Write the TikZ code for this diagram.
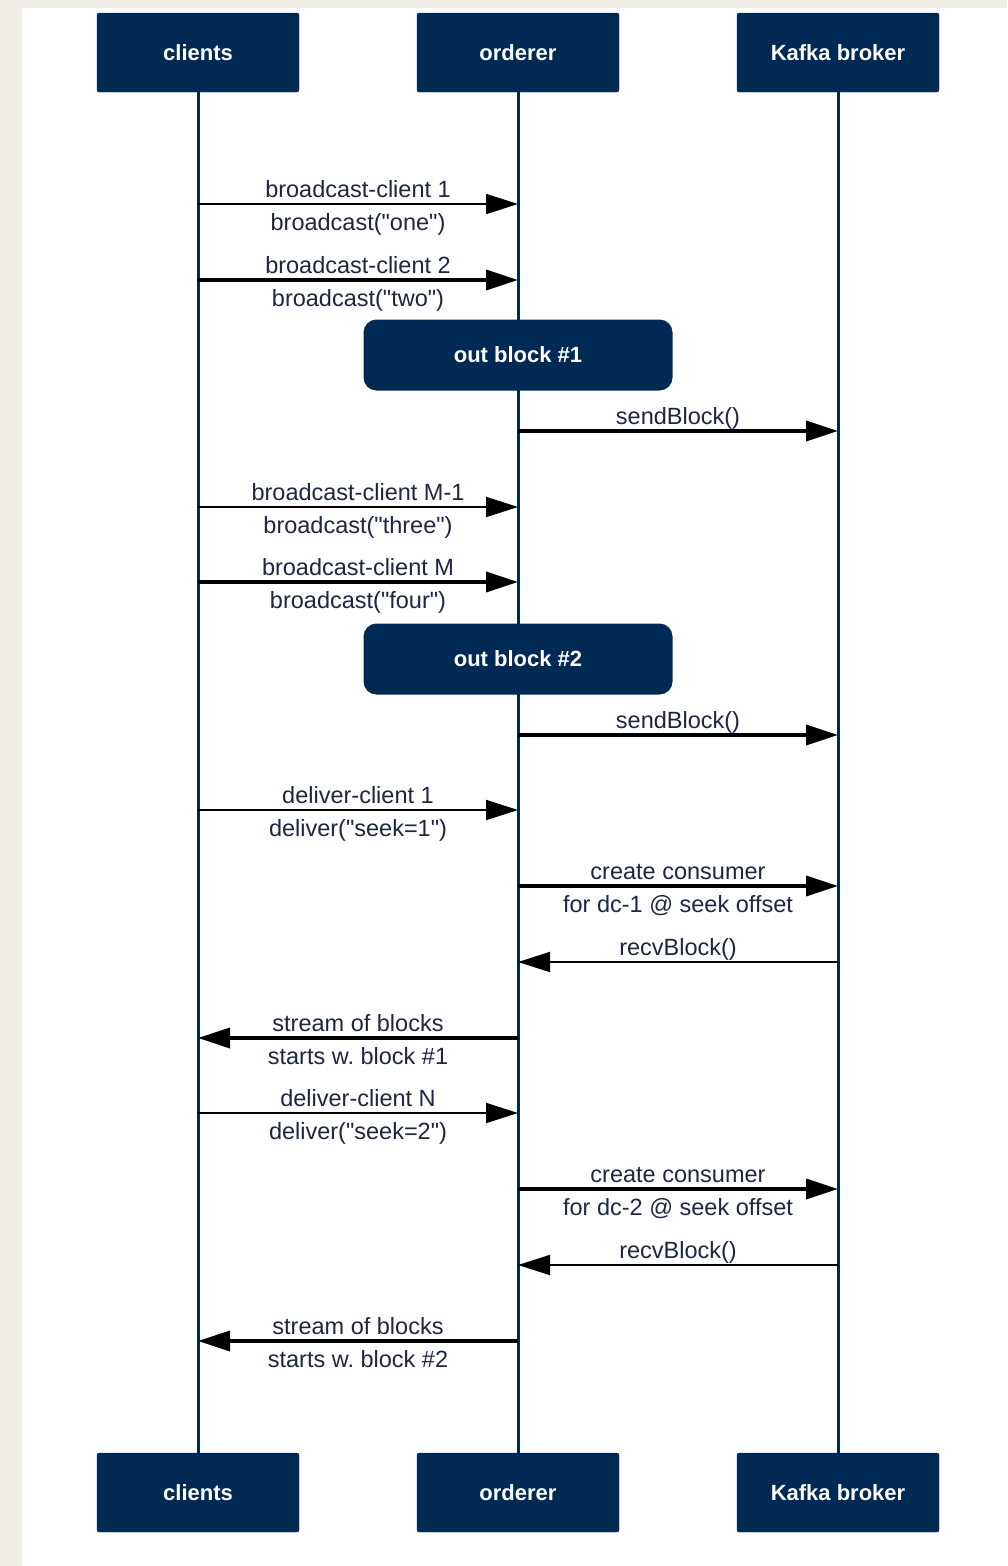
\documentclass[tikz,border=0pt]{standalone}
\usepackage{fontspec}
\setmainfont{Liberation Sans}[Ligatures=TeXOff]
\usetikzlibrary{arrows.meta}
\definecolor{navy}{RGB}{0,42,84}
\definecolor{labelc}{RGB}{30,38,66}
\definecolor{beige}{RGB}{241,238,232}
\frenchspacing
\begin{document}
\begin{tikzpicture}[x=1pt,y=-1pt,
  actor/.style={fill=navy, draw=navy, rounded corners=2pt, minimum width=202pt, minimum height=79pt,
    text=white, font=\fontsize{22}{26}\selectfont\bfseries, inner sep=0pt},
  outblk/.style={fill=navy, rounded corners=13pt, minimum width=309pt, minimum height=71pt,
    text=white, font=\fontsize{22}{26}\selectfont\bfseries, inner sep=0pt},
  life/.style={draw=navy, line width=3pt},
  msgthin/.style={draw=black, line width=2pt, -{Triangle[length=32pt,width=20pt]}},
  msgthick/.style={draw=black, line width=3.5pt, -{Triangle[length=32pt,width=20pt]}},
  lbl/.style={text=labelc, font=\fontsize{23.5}{27}\selectfont, inner sep=0pt, text height=17pt, text depth=5pt},
  up/.style={lbl, midway, yshift=13pt},
  dn/.style={lbl, midway, yshift=-20pt}
]
% background
\fill[beige] (0,0) rectangle (1007,1566);
\fill[white] (22,8) rectangle (1007,1566);
\useasboundingbox (0,0) rectangle (1007,1566);

% actors
\node[actor] (ct) at (198,52.5) {clients};
\node[actor] (ot) at (518,52.5) {orderer};
\node[actor] (kt) at (838,52.5) {Kafka broker};
\node[actor] (cb) at (198,1492.5) {clients};
\node[actor] (ob) at (518,1492.5) {orderer};
\node[actor] (kb) at (838,1492.5) {Kafka broker};

% lifelines
\draw[life] (ct.south) -- (cb.north);
\draw[life] (ot.south) -- (ob.north);
\draw[life] (kt.south) -- (kb.north);

% out blocks
\node[outblk] (blk1) at (518,355) {out block \#1};
\node[outblk] (blk2) at (518,659) {out block \#2};

% message endpoints
\foreach \n/\y in {1/204,2/280,4/431,5/507,6/582,8/735,9/810,10/886,11/962,12/1038,13/1113,14/1189,15/1265,16/1341}{
  \coordinate (c\n) at (198,\y);
  \coordinate (o\n) at (518,\y);
  \coordinate (k\n) at (838,\y);
}

\draw[msgthin] (c1) -- node[up]{broadcast-client 1} node[dn]{broadcast("one")} (o1);
\draw[msgthick] (c2) -- node[up]{broadcast-client 2} node[dn]{broadcast("two")} (o2);
\draw[msgthick] (o4) -- node[up]{sendBlock()} (k4);
\draw[msgthin] (c5) -- node[up]{broadcast-client M-1} node[dn]{broadcast("three")} (o5);
\draw[msgthick] (c6) -- node[up]{broadcast-client M} node[dn]{broadcast("four")} (o6);
\draw[msgthick] (o8) -- node[up]{sendBlock()} (k8);
\draw[msgthin] (c9) -- node[up]{deliver-client 1} node[dn]{deliver("seek=1")} (o9);
\draw[msgthick] (o10) -- node[up]{create consumer} node[dn]{for dc-1 @ seek offset} (k10);
\draw[msgthin] (k11) -- node[up]{recvBlock()} (o11);
\draw[msgthick] (o12) -- node[up]{stream of blocks} node[dn]{starts w. block \#1} (c12);
\draw[msgthin] (c13) -- node[up]{deliver-client N} node[dn]{deliver("seek=2")} (o13);
\draw[msgthick] (o14) -- node[up]{create consumer} node[dn]{for dc-2 @ seek offset} (k14);
\draw[msgthin] (k15) -- node[up]{recvBlock()} (o15);
\draw[msgthick] (o16) -- node[up]{stream of blocks} node[dn]{starts w. block \#2} (c16);
\end{tikzpicture}
\end{document}
